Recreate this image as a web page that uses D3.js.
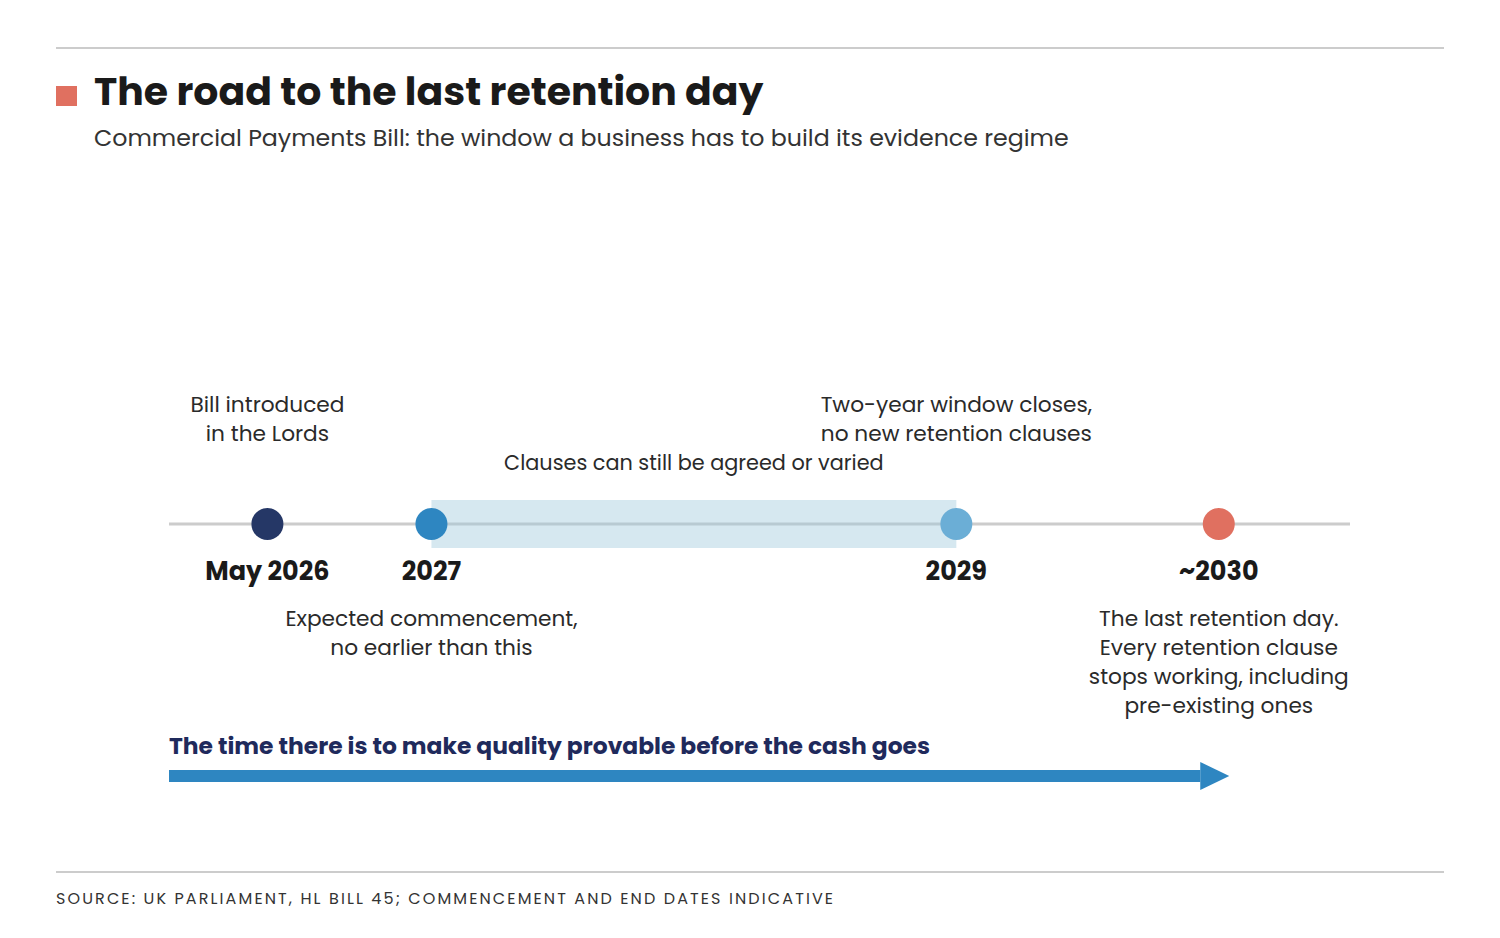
<!DOCTYPE html>
<html>
<head>
<meta charset="utf-8">
<script src="https://cdn.jsdelivr.net/npm/d3@7"></script>
<style>
  html, body { margin: 0; padding: 0; background: #fff; }
  svg { display: block; font-family: Poppins, "Open Sans", sans-serif; }
</style>
</head>
<body>
<svg id="chart" width="1500" height="938"></svg>
<script>
// données
var milestones = ["May 2026", "2027", "2029", "~2030"];
var milestoneYears = [2026.375, 2027, 2029, 2030];
var notesAbove = [["Bill introduced", "in the Lords"], [], ["Two-year window closes,", "no new retention clauses"], []];
var notesBelow = [[], ["Expected commencement,", "no earlier than this"], [], ["The last retention day.", "Every retention clause", "stops working, including", "pre-existing ones"]];
var windowYears = [2027, 2029];
var windowLabel = "Clauses can still be agreed or varied";
var arrowYears = [2026, 2030.04];
var arrowLabel = "The time there is to make quality provable before the cash goes";
var axisYears = [2026, 2030.5];

var title = "The road to the last retention day";
var subtitle = "Commercial Payments Bill: the window a business has to build its evidence regime";
var source = "SOURCE: UK PARLIAMENT, HL BILL 45; COMMENCEMENT AND END DATES INDICATIVE";

var dotColors = ["#253766", "#2e86c1", "#6baed6", "#e07060"];

var svg = d3.select("#chart");
var x = d3.scaleLinear().domain(axisYears).range([169, 1350]);
var yLine = 524;

// en-tête
svg.append("line").attr("x1", 56).attr("x2", 1444).attr("y1", 48).attr("y2", 48)
  .attr("stroke", "#cccccc").attr("stroke-width", 2);
svg.append("rect").attr("x", 56).attr("y", 86).attr("width", 21).attr("height", 20).attr("fill", "#e07060");
svg.append("text").attr("x", 94).attr("y", 105).text(title)
  .attr("font-size", 39.4).attr("font-weight", 700).attr("fill", "#1a1a1a");
svg.append("text").attr("x", 94).attr("y", 146).text(subtitle)
  .attr("font-size", 23.7).attr("fill", "#333");

// ligne du temps
svg.append("line").attr("x1", x(axisYears[0])).attr("x2", x(axisYears[1]))
  .attr("y1", yLine).attr("y2", yLine).attr("stroke", "#cccccc").attr("stroke-width", 3);

svg.append("rect")
  .attr("x", x(windowYears[0])).attr("width", x(windowYears[1]) - x(windowYears[0]))
  .attr("y", yLine - 24).attr("height", 48)
  .attr("fill", "rgb(155,199,218)").attr("fill-opacity", 0.41);

svg.append("text").attr("x", (x(windowYears[0]) + x(windowYears[1])) / 2).attr("y", 470)
  .attr("text-anchor", "middle").attr("font-size", 20.8).attr("fill", "#2a2a2a").text(windowLabel);

var g = svg.selectAll("g.milestone").data(milestones).enter().append("g")
  .attr("class", "milestone")
  .attr("transform", function(d, i){ return "translate(" + x(milestoneYears[i]) + ",0)"; });

g.append("circle").attr("cy", yLine).attr("r", 16)
  .attr("fill", function(d, i){ return dotColors[i]; });

g.append("text").attr("y", 580).attr("text-anchor", "middle")
  .attr("font-size", 25.5).attr("font-weight", 700).attr("fill", "#1a1a1a")
  .text(function(d){ return d; });

g.each(function(d, i){
  var sel = d3.select(this);
  notesAbove[i].forEach(function(line, j){
    sel.append("text").attr("y", 412 + j * 29).attr("text-anchor", "middle")
      .attr("font-size", 21.7).attr("fill", "#2a2a2a").text(line);
  });
  notesBelow[i].forEach(function(line, j){
    sel.append("text").attr("y", 626 + j * 29).attr("text-anchor", "middle")
      .attr("font-size", 21.7).attr("fill", "#2a2a2a").text(line);
  });
});

// flèche
svg.append("text").attr("x", x(arrowYears[0])).attr("y", 754).text(arrowLabel)
  .attr("font-size", 23.4).attr("font-weight", 700).attr("fill", "#1f2a5c");
var ax0 = x(arrowYears[0]), ax1 = x(arrowYears[1]);
svg.append("rect").attr("x", ax0).attr("y", 770).attr("width", ax1 - ax0 - 29).attr("height", 12).attr("fill", "#2e86c1");
svg.append("path")
  .attr("d", "M" + (ax1 - 29) + ",762 L" + ax1 + ",776 L" + (ax1 - 29) + ",790 Z")
  .attr("fill", "#2e86c1");

// pied
svg.append("line").attr("x1", 56).attr("x2", 1444).attr("y1", 872).attr("y2", 872)
  .attr("stroke", "#cccccc").attr("stroke-width", 2);
svg.append("text").attr("x", 56).attr("y", 904).text(source)
  .attr("font-size", 16).attr("letter-spacing", 2.1).attr("fill", "#333");
</script>
</body>
</html>
